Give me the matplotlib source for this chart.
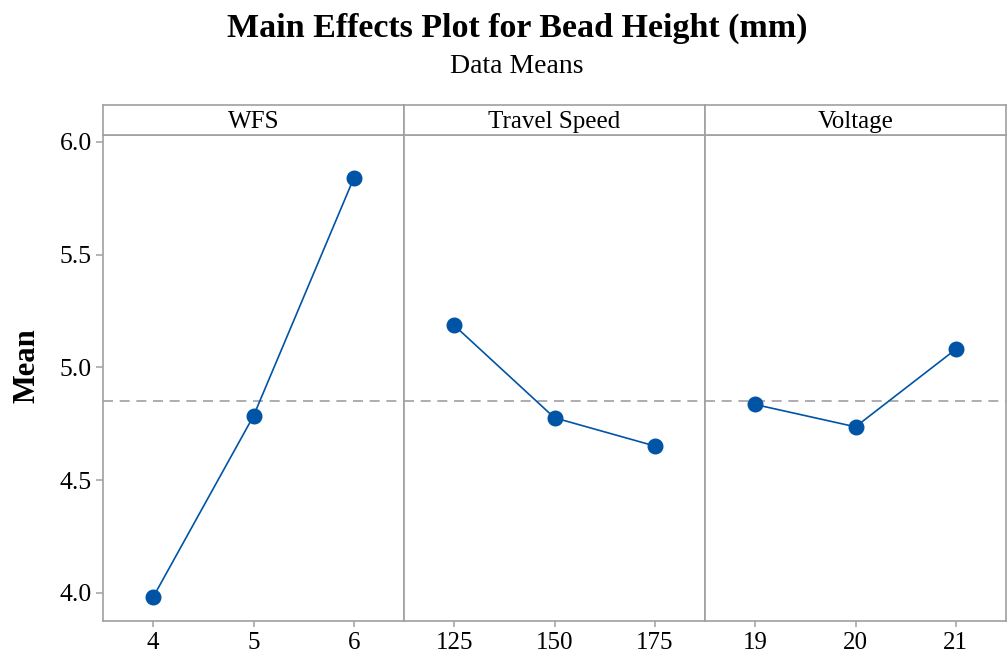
import numpy as np
import matplotlib.pyplot as plt

# main effects means
factors = ["WFS", "Travel Speed", "Voltage"]
levels = [[4, 5, 6], [125, 150, 175], [19, 20, 21]]
means = [[3.981, 4.784, 5.839], [5.186, 4.776, 4.651], [4.835, 4.736, 5.080]]
grand_mean = 4.852
y_ticks = [4.0, 4.5, 5.0, 5.5, 6.0]

blue = "#0054a6"
grey = "#a0a0a0"

plt.rcParams["font.family"] = ["Liberation Serif", "DejaVu Serif"]

fig = plt.figure(figsize=(10.08, 6.56), dpi=100)

left = 103 / 1008
pw = 301 / 1008
bottom = 1 - 621 / 656
ph = (621 - 135) / 656
sh = 30.5 / 656

for i, (name, lv, mv) in enumerate(zip(factors, levels, means)):
    ax = fig.add_axes([left + i * pw, bottom, pw, ph])
    step = lv[1] - lv[0]
    ax.set_xlim(lv[0] - step / 2, lv[-1] + step / 2)
    ax.set_ylim(3.875, 6.03)
    ax.axhline(grand_mean, color=grey, lw=1.2, ls=(0, (6, 4)), zorder=1)
    ax.plot(lv, mv, color=blue, lw=1.2, marker="o", ms=10.5, zorder=3)
    ax.set_xticks(lv)
    ax.set_xticklabels([str(v) for v in lv])
    for s in ax.spines.values():
        s.set_color(grey)
        s.set_linewidth(1.2)
    ax.tick_params(axis="x", direction="out", length=4, width=1.1, color=grey,
                   labelsize=18, pad=4)
    ax.tick_params(axis="y", direction="out", length=5, width=1.1, color=grey,
                   labelsize=18.5, pad=3)
    if i == 0:
        ax.set_yticks(y_ticks)
        ax.set_yticklabels([f"{v:.1f}" for v in y_ticks])
    else:
        ax.set_yticks([])

    # strip header
    sx = fig.add_axes([left + i * pw, bottom + ph, pw, sh])
    sx.set_xticks([])
    sx.set_yticks([])
    for s in sx.spines.values():
        s.set_color(grey)
        s.set_linewidth(1.2)
    sx.text(0.5, 0.22, name, ha="center", va="baseline", fontsize=18,
            transform=sx.transAxes)

fig.text(27 / 1008, 0.442, "Mean", rotation=90, ha="center", va="center",
         fontsize=22, fontweight="bold")
fig.text(517 / 1008, 1 - 37 / 656, "Main Effects Plot for Bead Height (mm)",
         ha="center", va="baseline", fontsize=24.5, fontweight="bold")
fig.text(517 / 1008, 1 - 73 / 656, "Data Means", ha="center", va="baseline",
         fontsize=20)

fig.savefig("out.png", dpi=100)
